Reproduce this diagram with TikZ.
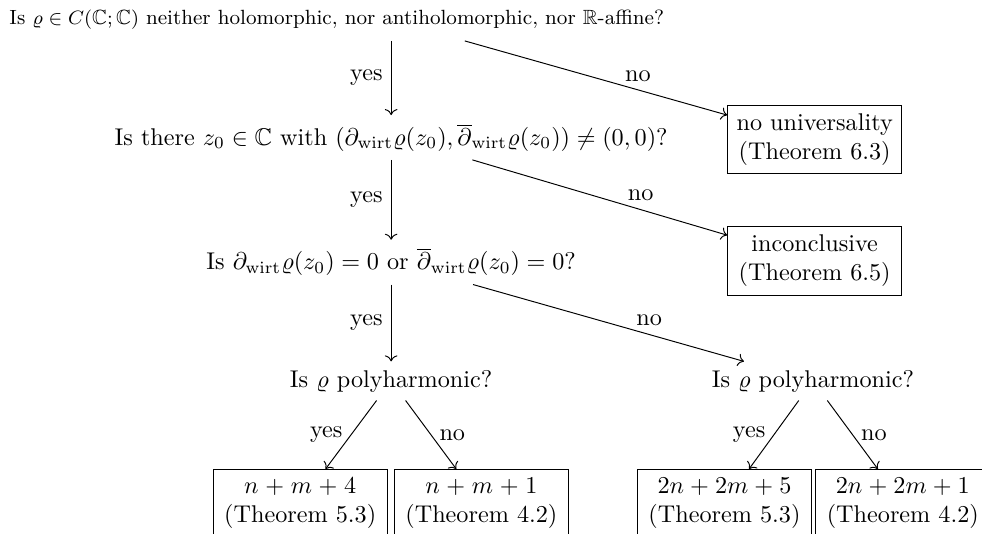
\documentclass[tikz,border=0pt]{standalone}
\usepackage{amsmath,amssymb}
\usepackage{tikz}
\usetikzlibrary{arrows.meta, positioning, calc}

\tikzset{
  question/.style={anchor=base},
  outcome/.style={draw, align=center, text width=65.2pt},
  flow/.style={->},
}

\begin{document}
\begin{tikzpicture}[x=1mm,y=1mm]
  \path[use as bounding box] (0,0) rectangle (142.6,77.4);

  % questions
  \node[question, font=\fontsize{8.5}{10}\selectfont] (q1) at (48.9,73.8) {Is $\varrho\in C(\mathbb{C};\mathbb{C})$ neither holomorphic, nor antiholomorphic, nor $\mathbb{R}$-affine?};
  \node[question] (q2) at (56.8,56.3) {Is there $z_0\in\mathbb{C}$ with $(\partial_{\mathrm{wirt}}\varrho(z_0),\overline{\partial}_{\mathrm{wirt}}\varrho(z_0))\neq(0,0)$?};
  \node[question] (q3) at (56.8,38.2) {Is $\partial_{\mathrm{wirt}}\varrho(z_0)=0$ or $\overline{\partial}_{\mathrm{wirt}}\varrho(z_0)=0$?};
  \node[question] (q4) at (56.8,21.2) {Is $\varrho$ polyharmonic?};
  \node[question] (q5) at (118.05,21.2) {Is $\varrho$ polyharmonic?};

  % outcomes
  \node[outcome] (box1) at (118.3,57.1) {no universality\\(Theorem 6.3)};
  \node[outcome] (box2) at (118.3,39.5) {inconclusive\\(Theorem 6.5)};
  \foreach \name/\x/\val/\thm in {resA/43.6/n+m+4/5.3, resB/69.9/n+m+1/4.2,
                                  resC/105.2/2n+2m+5/5.3, resD/131.1/2n+2m+1/4.2}{
    \node[outcome] (\name) at (\x,4.36) {$\val$\\(Theorem \thm)};
  }

  % edges
  \draw[flow] ($(q1.south -| q2.north)+(0,-0.4)$) -- node[left] {yes} (q2.north);
  \draw[flow] ($(q1.south -| q2.north)+(10.7,-0.4)$) -- node[above, pos=0.66] {no} (box1);
  \draw[flow] (q2) -- node[left] {yes} (q3);
  \draw[flow] ($(q2.south)+(11.8,0)$) -- node[above, pos=0.66] {no} (box2);
  \draw[flow] (q3) -- node[left] {yes} (q4);
  \draw[flow] ($(q3.south)+(11.9,0)$) -- node[above, pos=0.65] {no} (q5);
  \foreach \q/\a/\b in {q4/resA/resB, q5/resC/resD}{
    \draw[flow] (\q) -- node[left] {yes} (\a);
    \draw[flow] (\q) -- node[right] {no} (\b);
  }
\end{tikzpicture}
\end{document}
